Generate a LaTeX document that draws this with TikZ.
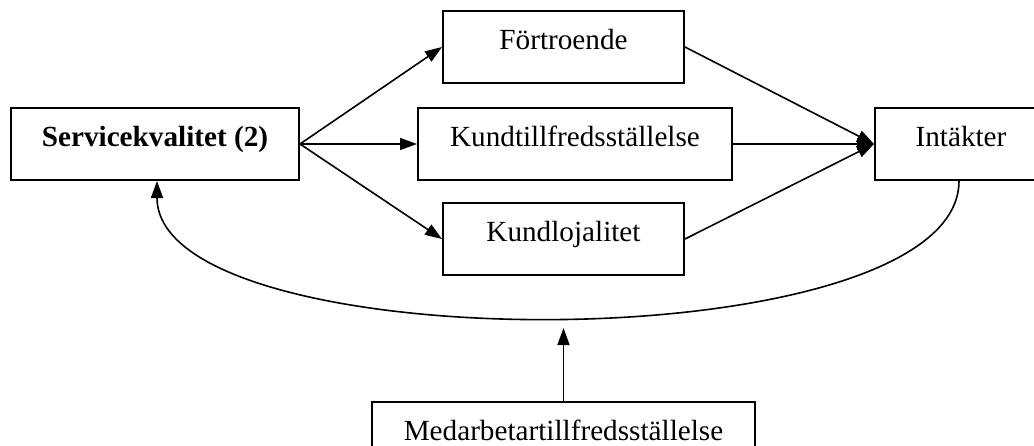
\documentclass[tikz,border=0pt]{standalone}
\usepackage{fontspec}
\setmainfont{Liberation Serif}
\usetikzlibrary{arrows.meta,calc}
\tikzset{
  % a plain text box, text sits in its upper half
  box/.style={draw=black, line width=1pt, anchor=north west, inner sep=0pt,
    minimum height=36pt, text height=19pt, text depth=17pt,
    font=\fontsize{14.6}{17}\selectfont},
  flow/.style={-{Triangle[length=8.5pt,width=6pt]}, line width=0.8pt},
}

\begin{document}
\begin{tikzpicture}[x=0.5pt,y=-0.5pt]
  \clip (0,0) rectangle (1034,445);
  % the boxes
  \node[box, minimum width=144pt, font=\fontsize{14.6}{17}\selectfont\bfseries] (serv) at (10,107) {Servicekvalitet (2)};
  \node[box, minimum width=120.5pt] (fort) at (442,10) {Förtroende};
  \node[box, minimum width=157pt] (nojd) at (417,107) {Kundtillfredsställelse};
  \node[box, minimum width=120.5pt] (loj) at (442,202) {Kundlojalitet};
  \node[box, minimum width=86pt] (int) at (874,107) {Intäkter};
  \node[box, minimum width=191.5pt] (med) at (371,401) {Medarbetartillfredsställelse};
  \coordinate (mtip) at ($(med.north)+(0,-73)$);

  % service quality drives the three outcomes
  \draw[flow] (serv.east) -- (fort.west);
  \draw[flow] (serv.east) -- (nojd.west);
  \draw[flow] (serv.east) -- (loj.west);
  % ... which all lead to revenue
  \draw[flow] (fort.east) -- (int.west);
  \draw[flow] (nojd.east) -- (int.west);
  \draw[flow] (loj.east) -- (int.west);
  % feedback loop and staff satisfaction
  \draw[flow] ([xshift=-1pt]int.south) .. controls ($(int.south)+(-2,182)$) and ($(serv.south)+(2,182)$) .. ([xshift=1pt]serv.south);
  \draw[flow] (med.north) -- (mtip);
\end{tikzpicture}
\end{document}
